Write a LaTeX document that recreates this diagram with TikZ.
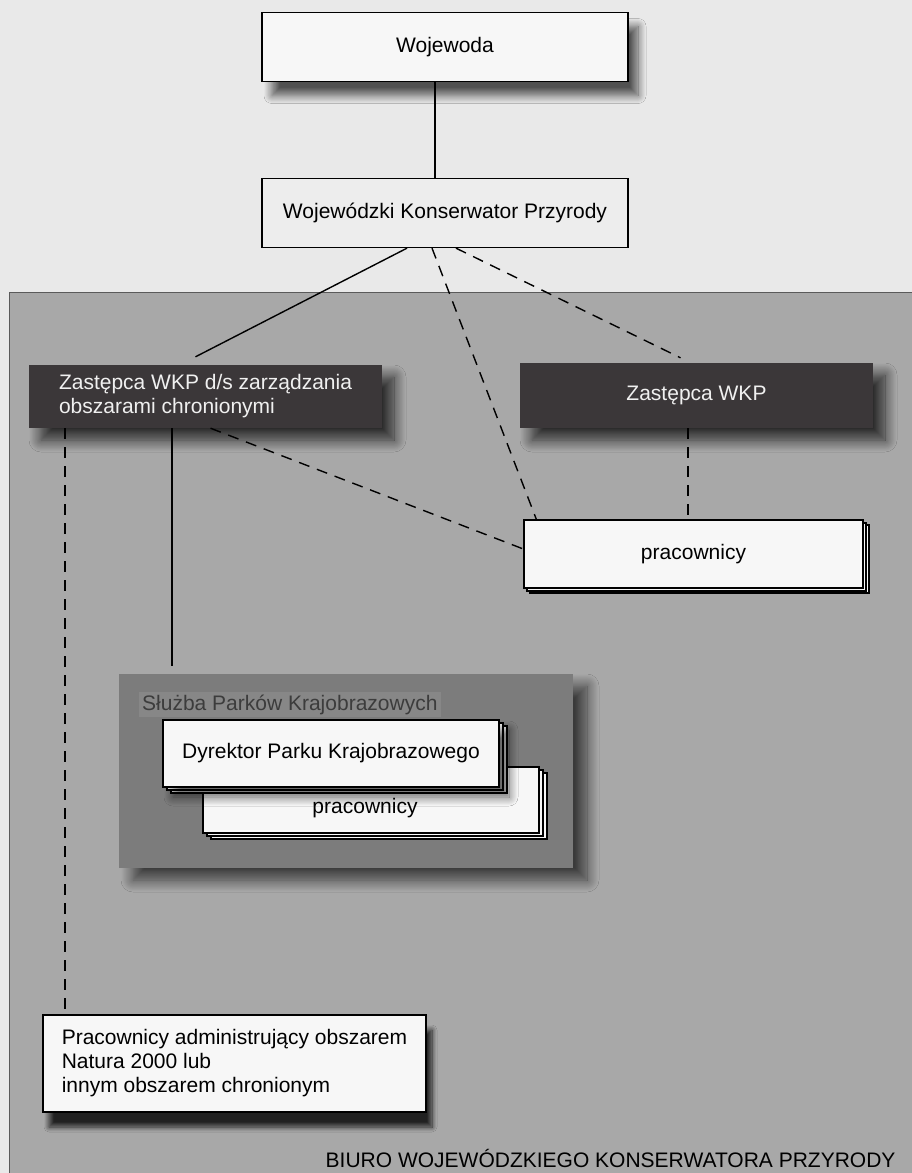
\documentclass[tikz,border=0pt]{standalone}
\usepackage{fontspec}
\setmainfont{Liberation Sans}
\usetikzlibrary{shadows.blur}
\definecolor{bgtop}{HTML}{E9E9E9}
\definecolor{regfill}{HTML}{A8A8A8}
\definecolor{regline}{HTML}{5A5A5A}
\definecolor{darkbox}{HTML}{3B3739}
\definecolor{darktext}{HTML}{F0F0F0}
\definecolor{slfill}{HTML}{7C7C7C}
\definecolor{sltext}{HTML}{3C3C3C}
\definecolor{sltitlefill}{HTML}{878787}
\definecolor{boxwhite}{HTML}{F7F7F7}
\definecolor{wkpfill}{HTML}{EDEDED}
\begin{document}
\begin{tikzpicture}[x=1pt,y=-1pt,
  lbl/.style={font=\fontsize{21}{24}\selectfont},
  wbox/.style={draw=black,line width=1.3pt,fill=boxwhite,inner sep=0pt,lbl},
  dbox/.style={fill=darkbox,text=darktext,inner sep=0pt,lbl,align=left,
    blur shadow={shadow xshift=12pt,shadow yshift=-12pt,shadow opacity=75,shadow blur radius=12pt,shadow blur steps=16}},
  conn/.style={line width=1.4pt,draw=black},
  dconn/.style={conn,dash pattern=on 11pt off 8pt},
]
\useasboundingbox (0,0) rectangle (912,1173);
\fill[bgtop] (0,0) rectangle (912,1173);
% office region
\fill[regfill] (9,292) rectangle (912,1173);
\draw[regline,line width=0.8pt] (9,1173) -- (9,292) -- (912,292);

% Sluzba group
\node[fill=slfill,inner sep=0pt,minimum width=454pt,minimum height=194pt,
  blur shadow={shadow xshift=14pt,shadow yshift=-12pt,shadow opacity=65,shadow blur radius=12pt,shadow blur steps=16}]
  (sluzba) at (346,771) {};
\node[lbl,text=sltext,fill=sltitlefill,inner xsep=3pt,inner ysep=3pt,anchor=base west] (slt) at (139,710) {Służba Parków Krajobrazowych};

% lower pracownicy stack
\node[wbox,minimum width=336pt,minimum height=66pt] (p2c) at (379,806) {};
\node[wbox,minimum width=336pt,minimum height=66pt] (p2b) at (375,803) {};
\node[wbox,minimum width=336pt,minimum height=66pt,anchor=center] (prac2) at (371,800) {};
\node[lbl,anchor=base] (prac2t) at (365,813) {pracownicy};

% Dyrektor stack
\node[wbox,minimum width=336pt,minimum height=67pt] (dyrc) at (339,759.5) {};
\node[wbox,minimum width=336pt,minimum height=67pt] (dyrb) at (335,756.5) {};
\node[wbox,minimum width=336pt,minimum height=67pt,
  blur shadow={shadow xshift=10pt,shadow yshift=-10pt,shadow opacity=60,shadow blur radius=9pt,shadow blur steps=14}]
  (dyr) at (331,753.5) {Dyrektor Parku Krajobrazowego};

% upper pracownicy stack
\node[wbox,minimum width=339pt,minimum height=68pt] (p1c) at (699.5,559) {};
\node[wbox,minimum width=339pt,minimum height=68pt] (p1b) at (696.5,557) {};
\node[wbox,minimum width=339pt,minimum height=68pt] (prac1) at (693.5,554) {pracownicy};

% deputies
\node[dbox,minimum width=353pt,minimum height=63pt] (zl) at (205.5,396.5)
  {Zastępca WKP d/s zarządzania\\obszarami chronionymi};
\node[dbox,minimum width=353pt,minimum height=65pt,align=center] (zr) at (696.5,395.5) {Zastępca WKP};

% top boxes
\node[wbox,minimum width=366pt,minimum height=69pt,
  blur shadow={shadow xshift=10pt,shadow yshift=-14pt,shadow opacity=65,shadow blur radius=8pt,shadow blur steps=14}]
  (woj) at (445,47) {Wojewoda};
\node[wbox,fill=wkpfill,minimum width=366pt,minimum height=69pt] (wkp) at (445,213) {Wojewódzki Konserwator Przyrody};

% bottom box
\node[wbox,minimum width=383pt,minimum height=97pt,align=left,
  blur shadow={shadow xshift=6pt,shadow yshift=-15pt,shadow opacity=80,shadow blur radius=5pt,shadow blur steps=10}]
  (bot) at (234.5,1063.5) {Pracownicy administrujący obszarem\\Natura 2000 lub\\innym obszarem chronionym};

% connectors
\coordinate (sj) at (172,666);
\draw[conn] ([xshift=-10pt]woj.south) -- ([xshift=-10pt]wkp.north);
\draw[conn] ([xshift=-38pt]wkp.south) -- ([xshift=-10pt,yshift=8pt]zl.north);
\draw[dconn] ([xshift=-13pt]wkp.south) -- ([xshift=13pt]prac1.north west);
\draw[dconn] ([xshift=11pt]wkp.south) -- ([xshift=-16pt,yshift=5pt]zr.north);
\draw[dconn] ([xshift=-8.5pt]zr.south) -- ([xshift=-5.5pt]prac1.north);
\draw[dconn] ([xshift=5pt]zl.south) -- ([yshift=5pt]prac1.west);
\draw[conn] ([xshift=-33.5pt]zl.south) -- (sj);
\draw[dconn] ([xshift=-140.5pt]zl.south) -- ([xshift=-140.5pt]zl.south |- bot.north);

\node[lbl,anchor=base east] (biuro) at (899,1167) {BIURO WOJEWÓDZKIEGO KONSERWATORA PRZYRODY};
\end{tikzpicture}
\end{document}
